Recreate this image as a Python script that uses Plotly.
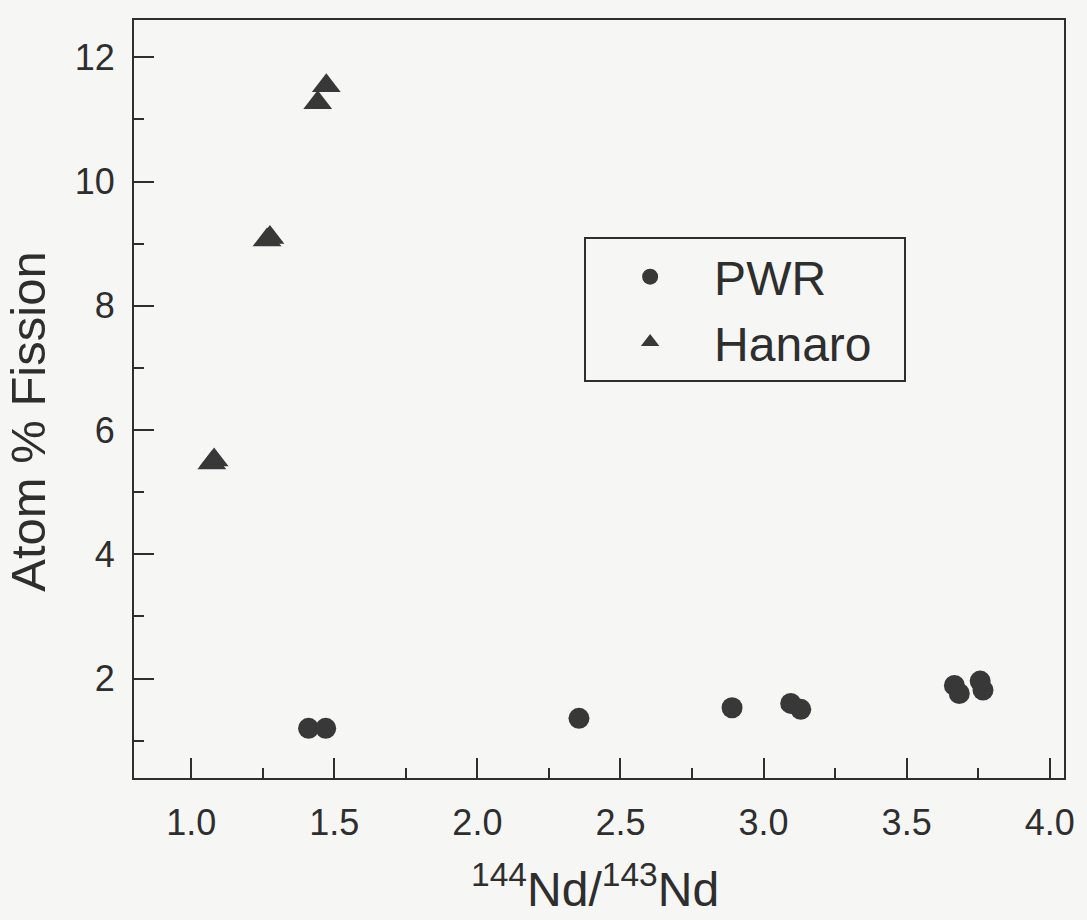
import plotly.graph_objects as go

# Data
pwr_x = [1.41, 1.47, 2.355, 2.89, 3.095, 3.13, 3.667, 3.684, 3.757, 3.767]
pwr_y = [1.20, 1.20, 1.36, 1.53, 1.60, 1.505, 1.89, 1.76, 1.96, 1.815]

hanaro_x = [1.072, 1.08, 1.265, 1.275, 1.442, 1.472]
hanaro_y = [5.47, 5.52, 9.06, 9.10, 11.27, 11.54]

x_ticks = [1.0, 1.5, 2.0, 2.5, 3.0, 3.5, 4.0]
y_ticks = [2, 4, 6, 8, 10, 12]

FONT = "Liberation Sans, Arial, sans-serif"
INK = "#2e2e2e"
MARK = "#383838"
BG = "#f6f6f4"

fig = go.Figure()
fig.add_trace(go.Scatter(
    x=pwr_x, y=pwr_y, mode="markers", name="PWR",
    marker=dict(symbol="circle", size=21, color=MARK, line=dict(width=0)),
))
fig.add_trace(go.Scatter(
    x=hanaro_x, y=hanaro_y, mode="markers", name="Hanaro\u00a0\u00a0",
    marker=dict(symbol="triangle-up", size=25, color=MARK, line=dict(width=0)),
))

axis_common = dict(
    showgrid=False, zeroline=False, showline=True, linecolor=INK, linewidth=2,
    mirror=True, ticks="inside", ticklen=20, tickwidth=2, tickcolor=INK,
    tickfont=dict(family=FONT, size=36, color=INK),
)

fig.update_xaxes(
    range=[0.8, 4.05], tickvals=x_ticks, ticktext=[f"{v:.1f}" for v in x_ticks],
    minor=dict(dtick=0.25, tick0=0, ticks="inside", ticklen=10, tickwidth=2, tickcolor=INK),
    ticklabelstandoff=12,
    **axis_common,
)
fig.update_yaxes(
    range=[0.4, 12.6], tickvals=y_ticks, ticktext=[str(v) for v in y_ticks],
    minor=dict(dtick=1, tick0=0, ticks="inside", ticklen=10, tickwidth=2, tickcolor=INK),
    ticklabelstandoff=10,
    **axis_common,
)

fig.add_annotation(
    text="<sup>144</sup>Nd/<sup>143</sup>Nd", xref="paper", yref="paper",
    x=0.496, y=0, xanchor="center", yanchor="top", yshift=-76, showarrow=False,
    font=dict(family=FONT, size=48, color=INK),
)
fig.add_annotation(
    text="Atom % Fission", xref="paper", yref="paper",
    x=0, y=0.47, xanchor="center", yanchor="middle", xshift=-106, textangle=-90,
    showarrow=False, font=dict(family=FONT, size=49, color=INK),
)

fig.update_layout(
    width=1087, height=920,
    margin=dict(l=134, r=12, t=20, b=142),
    paper_bgcolor=BG, plot_bgcolor=BG,
    showlegend=True,
    legend=dict(
        x=0.484, y=0.7137, xanchor="left", yanchor="top",
        bgcolor=BG, bordercolor=INK, borderwidth=2,
        font=dict(family=FONT, size=48, color=INK),
        itemwidth=118,
    ),
)

fig.write_html("out.html")
